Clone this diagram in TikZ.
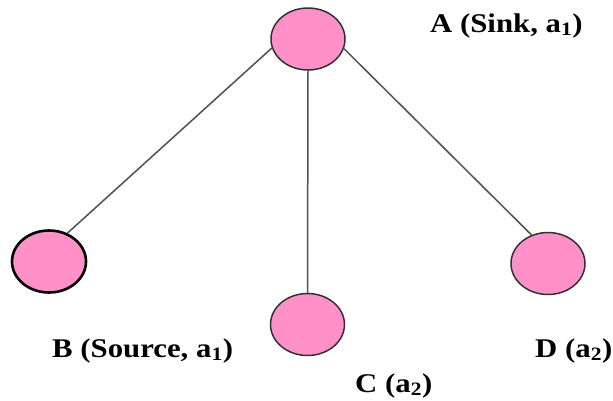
\documentclass[tikz,border=0pt]{standalone}
\usepackage{fontspec}
\setmainfont{Liberation Serif}[FakeStretch=1.14]
\usetikzlibrary{shapes.geometric}
\definecolor{nodepink}{RGB}{255,145,200}
\definecolor{rimgray}{RGB}{50,50,50}
\definecolor{edgegray}{RGB}{80,80,80}
\tikzset{
  vert/.style={ellipse, fill=nodepink, draw=rimgray, line width=1.5pt, minimum width=74pt, minimum height=62pt, inner sep=0pt},
  vertbold/.style={vert, draw=black, line width=2.6pt},
  edge/.style={draw=edgegray, line width=1.5pt},
  lbl/.style={anchor=base west, inner sep=0pt, font=\fontsize{27}{30}\selectfont\bfseries}
}
\begin{document}
\begin{tikzpicture}[x=1pt,y=-1pt]
\useasboundingbox (0,0) rectangle (613,400);
\node[vert] (A) at (308,39) {};
\node[vertbold] (B) at (49,261.5) {};
\node[vert] (C) at (307.5,324.5) {};
\node[vert] (D) at (548,263.5) {};
\draw[edge] (A.194) -- (B.57);
\draw[edge] (A.south) -- (C.north);
\draw[edge] (A.-15) -- (D.120);
\node[lbl] (la) at (430,32) {A (Sink, a\textsubscript{1})};
\node[lbl] (lb) at (52,357) {B (Source, a\textsubscript{1})};
\node[lbl] (lc) at (355,392) {C (a\textsubscript{2})};
\node[lbl] (ld) at (535,357) {D (a\textsubscript{2})};
\end{tikzpicture}
\end{document}
